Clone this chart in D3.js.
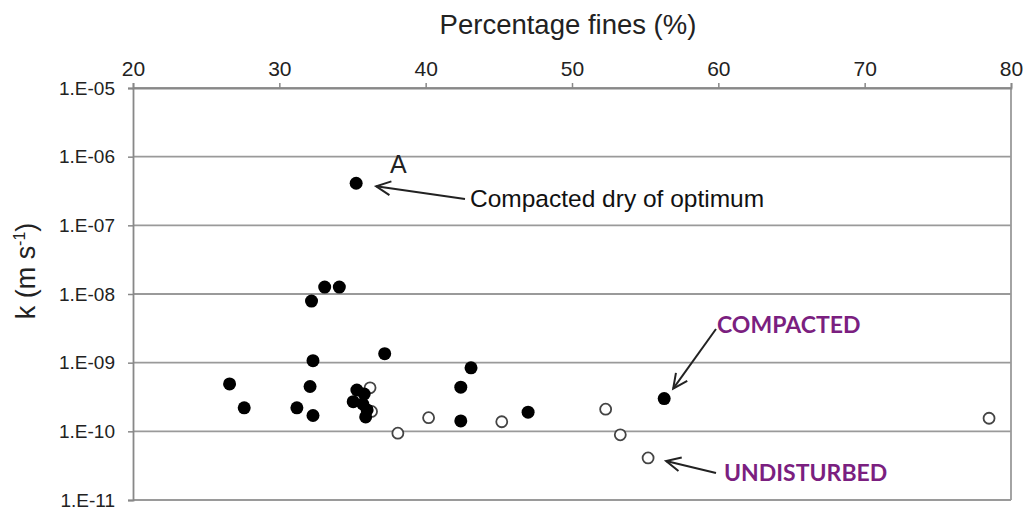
<!DOCTYPE html>
<html>
<head>
<meta charset="utf-8">
<script src="https://cdn.jsdelivr.net/npm/d3@7"></script>
<style>
  body { margin: 0; background: #fff; }
  svg text { font-family: "Liberation Sans", Arial, sans-serif; }
</style>
</head>
<body>
<div id="chart"></div>
<script>
// compacted samples (filled)
var compactedFines = [35.25, 33.1, 34.1, 32.2, 32.3, 37.2, 43.1, 26.6, 32.1, 42.4, 27.6, 31.2, 32.3, 42.4, 47.0, 56.3,
                      35.3, 35.8, 35.05, 35.7, 36.0, 35.9];
var compactedK = [4.1e-7, 1.26e-8, 1.26e-8, 7.9e-9, 1.07e-9, 1.35e-9, 8.4e-10, 4.9e-10, 4.5e-10, 4.4e-10, 2.2e-10, 2.2e-10, 1.7e-10, 1.42e-10, 1.9e-10, 3.0e-10,
                  4.0e-10, 3.5e-10, 2.7e-10, 2.5e-10, 2.05e-10, 1.62e-10];
// undisturbed samples (open)
var undisturbedFines = [36.2, 36.3, 38.1, 40.2, 45.2, 52.3, 53.3, 55.2, 78.5];
var undisturbedK = [4.3e-10, 1.95e-10, 9.4e-11, 1.58e-10, 1.38e-10, 2.1e-10, 8.9e-11, 4.1e-11, 1.55e-10];

var xTicks = [20, 30, 40, 50, 60, 70, 80];
var yTicks = [1e-5, 1e-6, 1e-7, 1e-8, 1e-9, 1e-10, 1e-11];

var width = 1029, height = 510;
var margin = {top: 88, right: 18, bottom: 10, left: 133};

var svg = d3.select("#chart").append("svg")
    .attr("width", width)
    .attr("height", height);

var x = d3.scaleLinear().domain([20, 80]).range([margin.left, 1011]);
var y = d3.scaleLog().domain([1e-11, 1e-5]).range([500, margin.top]);

var gridColor = "#9a9a9a";

// horizontal grid
svg.append("g")
    .selectAll("line")
    .data(yTicks)
    .enter()
    .append("line")
    .attr("x1", x(20))
    .attr("x2", x(80))
    .attr("y1", function (d) { return y(d); })
    .attr("y2", function (d) { return y(d); })
    .attr("stroke", gridColor)
    .attr("stroke-width", 1.8);

// right border
svg.append("line")
    .attr("x1", x(80)).attr("x2", x(80))
    .attr("y1", y(1e-5)).attr("y2", y(1e-11))
    .attr("stroke", gridColor)
    .attr("stroke-width", 1.8);

// top axis
var xAxis = svg.append("g")
    .attr("transform", "translate(0," + y(1e-5) + ")")
    .call(d3.axisTop(x).tickValues(xTicks).tickSize(5).tickPadding(7).tickFormat(d3.format("d")));
xAxis.select(".domain").attr("stroke", "#888").attr("stroke-width", 1.8);
xAxis.selectAll(".tick line").attr("stroke", "#888").attr("stroke-width", 1.5);
xAxis.selectAll("text")
    .style("font-size", "21px")
    .attr("fill", "#222");

// left axis
var yAxis = svg.append("g")
    .attr("transform", "translate(" + x(20) + ",0)")
    .call(d3.axisLeft(y).tickValues(yTicks).tickSize(5).tickPadding(13)
        .tickFormat(function (d) {
            var e = Math.round(Math.log10(d));
            return "1.E-" + d3.format("02d")(-e);
        }));
yAxis.select(".domain").attr("stroke", "#888").attr("stroke-width", 1.8);
yAxis.selectAll(".tick line").attr("stroke", "#888").attr("stroke-width", 1.5);
yAxis.selectAll("text")
    .style("font-size", "19px")
    .attr("fill", "#222");

// titles
svg.append("text")
    .attr("x", 568)
    .attr("y", 34)
    .attr("text-anchor", "middle")
    .style("font-size", "27.5px")
    .attr("fill", "#222")
    .text("Percentage fines (%)");

var yTitle = svg.append("text")
    .attr("transform", "translate(35,271) rotate(-90)")
    .attr("text-anchor", "middle")
    .style("font-size", "27px")
    .attr("fill", "#222");
yTitle.append("tspan").text("k (m s");
yTitle.append("tspan").attr("dy", -10).style("font-size", "16px").text("-1");
yTitle.append("tspan").attr("dy", 10).text(")");

// points
var undisturbed = d3.zip(undisturbedFines, undisturbedK);
var compacted = d3.zip(compactedFines, compactedK);

svg.append("g")
    .selectAll("circle")
    .data(undisturbed)
    .enter()
    .append("circle")
    .attr("cx", function (d) { return x(d[0]); })
    .attr("cy", function (d) { return y(d[1]); })
    .attr("r", 5.5)
    .attr("fill", "#fff")
    .attr("stroke", "#444")
    .attr("stroke-width", 1.8);

svg.append("g")
    .selectAll("circle")
    .data(compacted)
    .enter()
    .append("circle")
    .attr("cx", function (d) { return x(d[0]); })
    .attr("cy", function (d) { return y(d[1]); })
    .attr("r", 6.5)
    .attr("fill", "#000");

// annotations
function arrow(x1, y1, x2, y2) {
    var ang = Math.atan2(y2 - y1, x2 - x1);
    var len = 16, spread = 0.45;
    svg.append("line")
        .attr("x1", x1).attr("y1", y1).attr("x2", x2).attr("y2", y2)
        .attr("stroke", "#222").attr("stroke-width", 2);
    var p1 = [x2 - len * Math.cos(ang - spread), y2 - len * Math.sin(ang - spread)];
    var p2 = [x2 - len * Math.cos(ang + spread), y2 - len * Math.sin(ang + spread)];
    svg.append("path")
        .attr("d", "M" + p1 + "L" + x2 + "," + y2 + "L" + p2)
        .attr("fill", "none")
        .attr("stroke", "#222")
        .attr("stroke-width", 2);
}

svg.append("text")
    .attr("x", 390).attr("y", 173)
    .style("font-size", "25px")
    .attr("fill", "#222")
    .text("A");

arrow(465, 199, x(35.25) + 20, y(4.1e-7) + 3);
svg.append("text")
    .attr("x", 470).attr("y", 207)
    .style("font-size", "24.5px")
    .attr("fill", "#111")
    .text("Compacted dry of optimum");

var purple = "#7b1f80";
arrow(716, 329, x(56.3) + 9, y(3.0e-10) - 10);
svg.append("text")
    .attr("x", 717).attr("y", 333)
    .style("font-family", "Lato, 'Open Sans', sans-serif")
    .style("font-weight", "bold")
    .style("font-size", "23px")
    .attr("fill", purple)
    .text("COMPACTED");

arrow(716, 473, x(55.2) + 18, y(4.1e-11) + 3);
svg.append("text")
    .attr("x", 724).attr("y", 481)
    .style("font-family", "Lato, 'Open Sans', sans-serif")
    .style("font-weight", "bold")
    .style("font-size", "23px")
    .attr("fill", purple)
    .text("UNDISTURBED");
</script>
</body>
</html>
